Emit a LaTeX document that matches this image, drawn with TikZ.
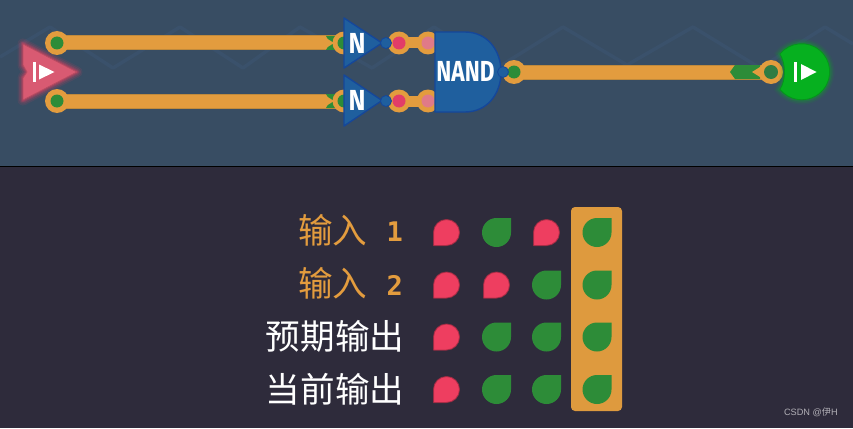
\documentclass[tikz,border=0pt]{standalone}
\usepackage{fontspec}
\setmainfont{Liberation Sans}
\newfontfamily\cjkfont{Noto Sans CJK SC}
\newfontfamily\gatefont{Fira Sans}
\newfontfamily\digitfont{DejaVu Sans Mono}
\usetikzlibrary{backgrounds}
\definecolor{topbg}{HTML}{384D63}
\definecolor{botbg}{HTML}{2E2B3B}
\definecolor{zig}{HTML}{3A516B}
\definecolor{wirecol}{HTML}{E39C3E}
\definecolor{wireedge}{HTML}{C08A3C}
\definecolor{pinred}{HTML}{E23D68}
\definecolor{pinpink}{HTML}{E07A88}
\definecolor{gr}{HTML}{2D8C38}
\definecolor{rd}{HTML}{EE3E60}
\definecolor{gate}{HTML}{1F5F9E}
\definecolor{gateedge}{HTML}{15479A}
\definecolor{inred}{HTML}{D95A72}
\definecolor{outgreen}{HTML}{06B01F}
\definecolor{panelcol}{HTML}{DE9A3E}
\tikzset{
  pin/.style={circle,inner sep=0pt,minimum size=24pt,fill=wirecol},
  pinin/.style={circle,inner sep=0pt,minimum size=13pt,fill=#1},
  wire/.style={draw=wireedge,line width=1pt,double=wirecol,double distance=13pt},
  stub/.style={draw=wirecol,line width=11pt},
  dot/.style={circle,inner sep=0pt,minimum size=11pt,fill=gate,draw=gateedge,line width=.8pt},
  notgate/.style={fill=gate,draw=gateedge,line width=1.4pt,line join=round},
  gatelabel/.style={text=white,inner sep=0pt,font=\gatefont\bfseries\fontsize{29}{29}\selectfont},
  cjk/.style={anchor=east,inner sep=0pt,font=\cjkfont\fontsize{34.6}{35}\selectfont},
  digit/.style={anchor=east,inner sep=0pt,text=wirecol,font=\digitfont\bfseries\fontsize{27}{27}\selectfont},
}
\newcommand{\reddrop}[2]{%
  \path[draw=rd!70!black,draw opacity=.75,line width=1pt,fill=rd,line join=round] (#1-13,#2+13) -- (#1-13,#2) arc[start angle=180,end angle=-90,radius=13pt] -- cycle;}
\newcommand{\greendrop}[2]{%
  \fill[gr] (#1+14.5,#2-14.5) -- (#1,#2-14.5) arc[start angle=90,end angle=360,radius=14.5pt] -- cycle;}
\pgfdeclarelayer{wires}
\pgfsetlayers{background,wires,main}
\begin{document}
\begin{tikzpicture}[x=1pt,y=-1pt]
\useasboundingbox (0,0) rectangle (853,428);
\begin{scope}[on background layer]
  \fill[botbg] (0,0) rectangle (853,428);
  \fill[topbg] (0,0) rectangle (853,166);
  \draw[black,line width=1pt] (0,166.5) -- (853,166.5);
  \draw[zig,line width=3.5pt,line join=round] (0,57) -- (50,27) -- (113,68) -- (180,27) -- (243,68) -- (300,27) -- (372,68) -- (434,27) -- (497,68) -- (563,27) -- (627,65) -- (693,27) -- (760,68) -- (825,27) -- (853,44);
\end{scope}

% input
\foreach \w/\o in {11/.10,8/.14,5/.2,3/.25}
  \draw[rd,opacity=\o,line width=\w pt,line join=round] (23,44) -- (77,72) -- (23,100) -- (23,78) -- (27,72) -- (23,65) -- cycle;
\path[fill=inred,draw=inred!85!black,line width=.8pt,line join=round] (23,44) -- (77,72) -- (23,100) -- (23,78) -- (27,72) -- (23,65) -- cycle;
\fill[white] (33.3,62) rectangle (35.8,82);
\fill[white] (39,64.5) -- (54.5,72) -- (39,79.5) -- cycle;

% pins
\node[pin] (a1) at (57,43) {};
\node[pinin=gr] at (a1.center) {};
\node[pin] (a2) at (57,101) {};
\node[pinin=gr] at (a2.center) {};

\node[pin,minimum size=23pt] (b1) at (344,43) {};
\node[pinin=gr] at (b1.center) {};
\node[pin,minimum size=23pt] (b2) at (344,101) {};
\node[pinin=gr] at (b2.center) {};

\node[pin,minimum size=23pt] (c1) at (399,43) {};
\node[pinin=pinred] at (c1.center) {};
\node[pin,minimum size=23pt] (c2) at (399,101) {};
\node[pinin=pinred] at (c2.center) {};

\node[pin,minimum size=23pt] (d1) at (428,43) {};
\node[pinin=pinpink] at (d1.center) {};
\node[pin,minimum size=23pt] (d2) at (428,101) {};
\node[pinin=pinpink] at (d2.center) {};

\node[pin] (e) at (514,72) {};
\node[pinin=gr] at (e.center) {};
\node[pin] (f) at (771,72) {};
\node[pinin=gr!75!topbg,minimum size=14pt] at (f.center) {};

% wires and signal marks, under the pins
\begin{pgfonlayer}{wires}
  \draw[wire] (a1.center) -- (b1.center);
  \draw[wire] (a2.center) -- (b2.center);
  \draw[wire] (e.center) -- (f.center);
  \draw[stub] (c1.center) -- (d1.center);
  \draw[stub] (c2.center) -- (d2.center);
  \fill[gr] (730,72) -- (735,65) -- (760,65) -- (760,79) -- (735,79) -- cycle;
  \fill[wirecol] (752,72) -- (760,67) -- (760,77) -- cycle;
  \fill[gr] (326,36) -- (340,36) -- (340,50) -- (326,50) -- (330,43) -- cycle;
  \fill[wirecol] (326,38) -- (334,43) -- (326,48) -- cycle;
  \fill[gr] (326,94) -- (340,94) -- (340,108) -- (326,108) -- (330,101) -- cycle;
  \fill[wirecol] (326,96) -- (334,101) -- (326,106) -- cycle;
\end{pgfonlayer}

% NOT gates
\path[notgate] (344,18) -- (382,43) -- (344,68) -- cycle;
\path[notgate] (344,75) -- (382,100.5) -- (344,126) -- cycle;
\node[dot] (n1o) at (386,43) {};
\node[dot] (n2o) at (386,101) {};
\node[gatelabel,xscale=.88] (n1) at (357,43) {N};
\node[gatelabel,xscale=.88] (n2) at (357,100) {N};

% NAND gate
\path[notgate] (435,32) -- (465,32) .. controls (487,32) and (501,50) .. (501,72) .. controls (501,94) and (487,112) .. (465,112) -- (435,112) -- cycle;
\node[dot] (no) at (503,72) {};
\node[gatelabel,xscale=.78] (nand) at (465.5,71.5) {NAND};

% output
\foreach \w/\o in {10/.08,7/.12,4/.2}
  \draw[outgreen,opacity=\o,line width=\w pt] (780,54) arc[start angle=140.7,end angle=-140.7,radius=28pt] .. controls (786,80) and (786,64) .. cycle;
\path[fill=outgreen,draw=outgreen!85!black,line width=.8pt] (780,54) arc[start angle=140.7,end angle=-140.7,radius=28pt] .. controls (786,80) and (786,64) .. cycle;
\fill[white] (794.3,62) rectangle (796.8,82);
\fill[white] (801,64) -- (816.5,72) -- (801,80) -- cycle;

% table
\node[rounded corners=4pt,fill=panelcol,minimum width=51pt,minimum height=204pt,inner sep=0pt] (panel) at (596.5,309) {};
\node[cjk,text=wirecol] (t1) at (367.5,230) {输入};
\node[digit] (t1d) at (403,232) {1};
\node[cjk,text=wirecol] (t2) at (367.5,283) {输入};
\node[digit] (t2d) at (403,285) {2};
\node[cjk,text=white] (t3) at (404.5,336) {预期输出};
\node[cjk,text=white] (t4) at (404.5,389) {当前输出};

\reddrop{446.5}{232.5}\greendrop{496.5}{232.5}\reddrop{546.5}{232.5}\greendrop{597}{232.5}
\reddrop{446.5}{285}\reddrop{496.5}{285}\greendrop{546.5}{285}\greendrop{597}{285}
\reddrop{446.5}{337}\greendrop{496.5}{337}\greendrop{546.5}{337}\greendrop{597}{337}
\reddrop{446.5}{389.5}\greendrop{496.5}{389.5}\greendrop{546.5}{389.5}\greendrop{597}{389.5}

\node[anchor=east,inner sep=0pt,text=white!62!botbg,font=\fontsize{9.2}{10}\selectfont] (wm) at (838,412.5) {CSDN @{\cjkfont 伊}H};
\end{tikzpicture}
\end{document}
